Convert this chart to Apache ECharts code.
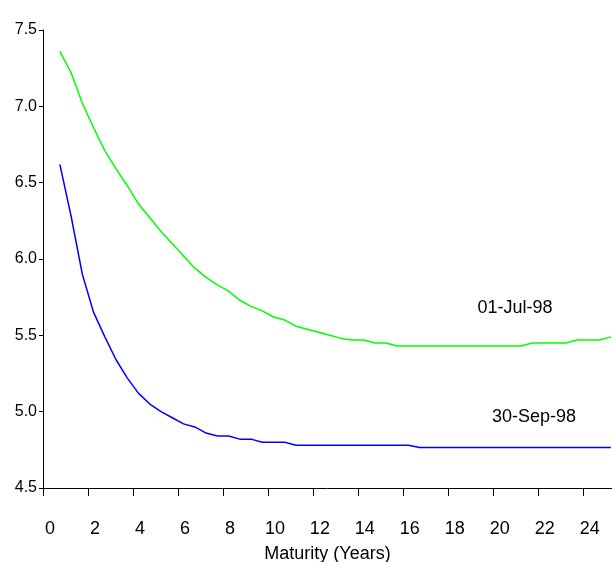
<!DOCTYPE html>
<html>
<head>
<meta charset="utf-8">
<script src="https://cdn.jsdelivr.net/npm/echarts@6/dist/echarts.min.js"></script>
<style>
  html, body { margin: 0; padding: 0; background: #fff; }
  #chart { width: 612px; height: 562px; }
</style>
</head>
<body>
<div id="chart"></div>
<script>
// maturities (years), read every half year
var maturity = [0.75, 1.25, 1.75, 2.25, 2.75, 3.25, 3.75, 4.25, 4.75, 5.25,
  5.75, 6.25, 6.75, 7.25, 7.75, 8.25, 8.75, 9.25, 9.75, 10.25,
  10.75, 11.25, 11.75, 12.25, 12.75, 13.25, 13.75, 14.25, 14.75, 15.25,
  15.75, 16.25, 16.75, 17.25, 17.75, 18.25, 18.75, 19.25, 19.75, 20.25,
  20.75, 21.25, 21.75, 22.25, 22.75, 23.25, 23.75, 24.25, 24.75, 25.25];
// 01-Jul-98 curve
var julCurve = [7.36, 7.22, 7.02, 6.86, 6.71, 6.59, 6.48, 6.36, 6.27, 6.18,
  6.10, 6.02, 5.94, 5.88, 5.83, 5.79, 5.73, 5.69, 5.66, 5.62,
  5.60, 5.56, 5.54, 5.52, 5.50, 5.48, 5.47, 5.47, 5.45, 5.45,
  5.43, 5.43, 5.43, 5.43, 5.43, 5.43, 5.43, 5.43, 5.43, 5.43,
  5.43, 5.43, 5.45, 5.45, 5.45, 5.45, 5.47, 5.47, 5.47, 5.49];
// 30-Sep-98 curve
var sepCurve = [6.62, 6.28, 5.90, 5.65, 5.49, 5.34, 5.22, 5.12, 5.05, 5.00,
  4.96, 4.92, 4.90, 4.86, 4.84, 4.84, 4.82, 4.82, 4.80, 4.80,
  4.80, 4.78, 4.78, 4.78, 4.78, 4.78, 4.78, 4.78, 4.78, 4.78,
  4.78, 4.78, 4.765, 4.765, 4.765, 4.765, 4.765, 4.765, 4.765, 4.765,
  4.765, 4.765, 4.765, 4.765, 4.765, 4.765, 4.765, 4.765, 4.765, 4.765];
var xTicks = [0, 2, 4, 6, 8, 10, 12, 14, 16, 18, 20, 22, 24];

function pairs(xs, ys) {
  var out = [];
  for (var i = 0; i < xs.length; i++) out.push([xs[i], ys[i]]);
  return out;
}

var myChart = echarts.init(document.getElementById('chart'));
var font = 'Liberation Sans, Arial, sans-serif';
var option = {
  animation: false,
  grid: { left: 43, right: 0, top: 30, bottom: 74, containLabel: false, outerBoundsMode: 'none' },
  xAxis: {
    type: 'value',
    min: 0,
    max: 25.3,
    name: 'Maturity (Years)',
    nameLocation: 'middle',
    nameGap: 57,
    nameTextStyle: { color: '#000', fontSize: 18, fontFamily: font },
    axisLine: { show: true, onZero: false, lineStyle: { color: '#000', width: 1 } },
    axisTick: { show: true, length: 8, inside: false, customValues: xTicks, lineStyle: { color: '#000' } },
    axisLabel: { customValues: xTicks, color: '#000', fontSize: 18, fontFamily: font, margin: 32, padding: [0, 0, 0, 14] },
    splitLine: { show: false }
  },
  yAxis: {
    type: 'value',
    min: 4.5,
    max: 7.5,
    interval: 0.5,
    axisLine: { show: true, lineStyle: { color: '#000', width: 1 } },
    axisTick: { show: true, length: 4, lineStyle: { color: '#000' } },
    axisLabel: {
      color: '#000', fontSize: 16, fontFamily: font, margin: 6,
      verticalAlign: 'middle',
      padding: [0, 0, 14, 0],
      formatter: function (v) { return v.toFixed(1); }
    },
    splitLine: { show: false }
  },
  series: [
    {
      name: '01-Jul-98',
      type: 'line',
      data: pairs(maturity, julCurve),
      symbol: 'none',
      lineStyle: { color: '#00ff00', width: 1.5 }
    },
    {
      name: '30-Sep-98',
      type: 'line',
      data: pairs(maturity, sepCurve),
      symbol: 'none',
      lineStyle: { color: '#0000ff', width: 1.5 }
    }
  ],
  graphic: [
    { type: 'text', x: 515, y: 308, style: { text: '01-Jul-98', fill: '#000', font: '18px ' + font, align: 'center', verticalAlign: 'middle' } },
    { type: 'text', x: 534, y: 417, style: { text: '30-Sep-98', fill: '#000', font: '18px ' + font, align: 'center', verticalAlign: 'middle' } }
  ]
};
myChart.setOption(option);
</script>
</body>
</html>
